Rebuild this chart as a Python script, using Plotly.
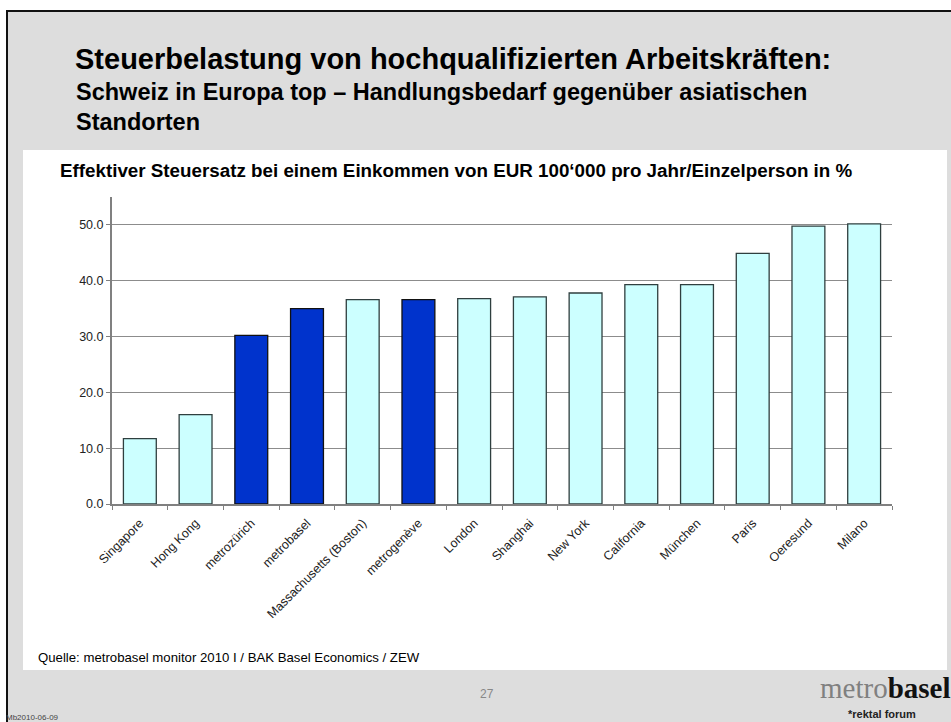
import plotly.graph_objects as go

categories = ["Singapore", "Hong Kong", "metrozürich", "metrobasel", "Massachusetts (Boston)",
              "metrogenève", "London", "Shanghai", "New York", "California", "München",
              "Paris", "Oeresund", "Milano"]
values = [11.7, 16.0, 30.2, 35.0, 36.6, 36.6, 36.8, 37.1, 37.8, 39.3, 39.3, 44.9, 49.8, 50.2]
highlight = ["metrozürich", "metrobasel", "metrogenève"]
y_ticks = [0, 10, 20, 30, 40, 50]

W, H = 951, 722
L, R, T, B = 112, 892, 197, 504

def px(x):
    return (x - L) / (R - L)

def py(y):
    return (B - y) / (B - T)

colors = ["#0033cc" if c in highlight else "#ccffff" for c in categories]
line_colors = ["#111111" if c in highlight else "#2f3f3f" for c in categories]

fig = go.Figure()
fig.add_trace(go.Bar(
    x=categories, y=values,
    marker=dict(color=colors, line=dict(color=line_colors, width=1.3)),
    hoverinfo="x+y",
))

font = "Liberation Sans, Arial, sans-serif"

shapes = [
    dict(type="rect", xref="paper", yref="paper", x0=px(7), x1=px(960), y0=py(11), y1=py(740),
         fillcolor="#dddddd", line=dict(color="#111111", width=2), layer="below"),
    dict(type="rect", xref="paper", yref="paper", x0=px(23), x1=px(947), y0=py(150), y1=py(670),
         fillcolor="#ffffff", line=dict(width=0), layer="below"),
]

def ann(text, x, y, size, color="#000000", xanchor="left", family=font):
    return dict(text=text, x=px(x), y=py(y), xref="paper", yref="paper",
                xanchor=xanchor, yanchor="middle", showarrow=False,
                font=dict(family=family, size=size, color=color))

annotations = [
    ann("<b>Steuerbelastung von hochqualifizierten Arbeitskräften:</b>", 73, 59, 29),
    ann("<b>Schweiz in Europa top – Handlungsbedarf gegenüber asiatischen</b>", 74, 92, 23.5),
    ann("<b>Standorten</b>", 74, 122, 23.5),
    ann("<b>Effektiver Steuersatz bei einem Einkommen von EUR 100‘000 pro Jahr/Einzelperson in %</b>", 58, 170, 18.8),
    ann("Quelle: metrobasel monitor 2010 I / BAK Basel Economics / ZEW", 36, 657, 13.2),
    ann("27", 487, 694, 12, color="#888888", xanchor="center"),
    ann("<span style='color:#808080'>metro</span><b>basel</b>", 953, 688, 29, color="#111111",
        xanchor="right", family="Liberation Serif, DejaVu Serif, serif"),
    ann("<b>*rektal forum</b>", 846, 714, 11, color="#222222"),
    ann("Mb2010-06-09", 4, 717, 8, color="#444444"),
]

fig.update_layout(
    width=W, height=H,
    margin=dict(l=L, r=W - R, t=T, b=H - B, pad=0),
    paper_bgcolor="#ffffff",
    plot_bgcolor="rgba(0,0,0,0)",
    showlegend=False,
    bargap=0.41,
    shapes=shapes,
    annotations=annotations,
    font=dict(family=font, color="#222222"),
    xaxis=dict(
        type="category", tickangle=-45, tickson="boundaries",
        ticks="outside", ticklen=4, tickcolor="#808080", tickwidth=1,
        showline=True, linecolor="#808080", linewidth=2,
        showgrid=False, tickfont=dict(family=font, size=12.5, color="#222222"),
        ticklabelstandoff=5,
        fixedrange=True,
    ),
    yaxis=dict(
        range=[0, 55], tickvals=y_ticks, tickformat=".1f",
        ticks="outside", ticklen=4, tickcolor="#808080",
        showline=True, linecolor="#808080", linewidth=2,
        showgrid=True, gridcolor="#8c8c8c", gridwidth=1, zeroline=False,
        tickfont=dict(family=font, size=12.5, color="#222222"),
        fixedrange=True,
    ),
)

fig.write_html("out.html", config={"displayModeBar": False},
               post_script="document.body.style.margin='0px';")
